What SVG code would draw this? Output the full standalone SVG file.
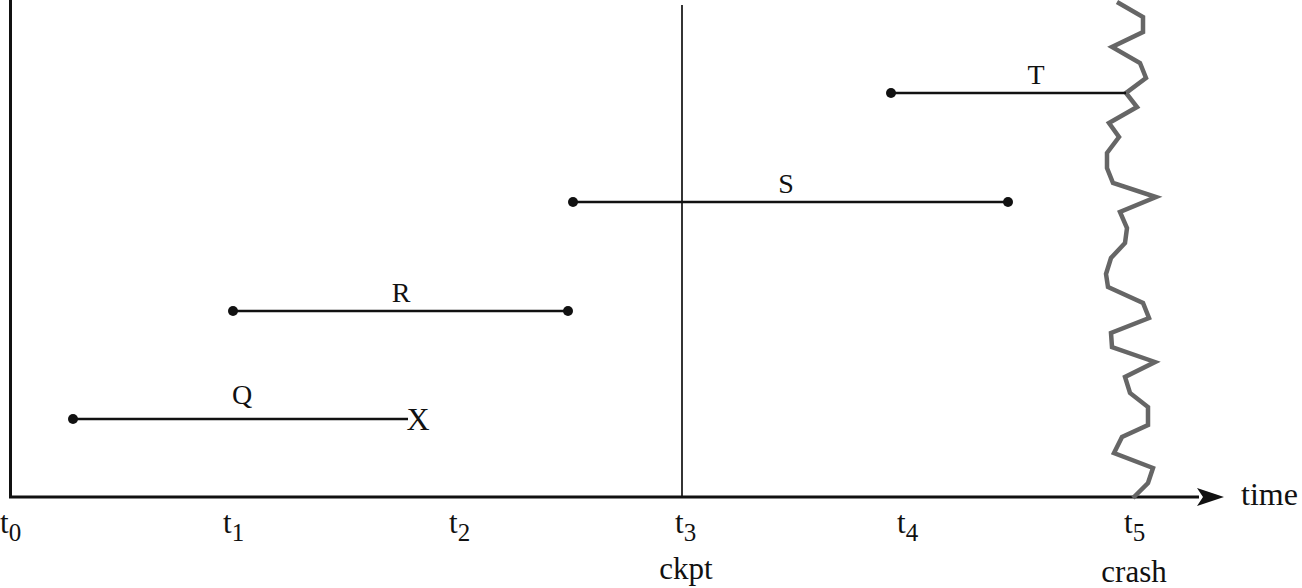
<svg xmlns="http://www.w3.org/2000/svg" width="1302" height="588" viewBox="0 0 1302 588">
<style>
.lbl{font-family:"Liberation Serif",serif;fill:#111}
.tl{font-size:31px}
.sub{font-size:25px}
.tx{font-size:28px;text-anchor:middle}
.line{stroke:#111;stroke-width:2.5;fill:none}
.dot{fill:#111}
</style>
<g id="axes">
<path d="M10.5,0 V497 H1199" stroke="#111" stroke-width="3" fill="none"/>
<path d="M1197,488 L1224,497 L1197,506 L1203,497 Z" fill="#111"/>
<text class="lbl" x="1241" y="505" font-size="32">time</text>
</g>
<g id="ticks">
<text class="lbl tl" x="0" y="533">t<tspan class="sub" dy="8">0</tspan></text>
<text class="lbl tl" x="223" y="533">t<tspan class="sub" dy="8">1</tspan></text>
<text class="lbl tl" x="449" y="533">t<tspan class="sub" dy="8">2</tspan></text>
<text class="lbl tl" x="675" y="533">t<tspan class="sub" dy="8">3</tspan></text>
<text class="lbl tl" x="897" y="533">t<tspan class="sub" dy="8">4</tspan></text>
<text class="lbl tl" x="1124" y="533">t<tspan class="sub" dy="8">5</tspan></text>
<text class="lbl tl" x="686" y="579" text-anchor="middle" font-size="32">ckpt</text>
<text class="lbl tl" x="1134" y="582" text-anchor="middle" font-size="32">crash</text>
</g>
<g id="ckpt">
<line x1="682" y1="5" x2="682" y2="497" stroke="#111" stroke-width="1.7"/>
</g>
<g id="crash">
<polyline points="1117,2 1143,17 1143,32 1112,47 1140,63 1146,78 1126,93 1137,107 1109,123 1119,137 1107,153 1107,168 1113,183 1156,197 1120,212 1127,228 1125,243 1111,258 1106,274 1108,287 1143,303 1149,318 1111,333 1112,347 1155,362 1125,377 1130,393 1148,407 1148,425 1122,437 1114,453 1153,468 1148,483 1133,498" fill="none" stroke="#666" stroke-width="4.5" stroke-linejoin="miter"/>
</g>
<g id="connectors">
<line class="line" x1="73" y1="419" x2="408" y2="419"/>
<line class="line" x1="233" y1="311" x2="568" y2="311"/>
<line class="line" x1="573" y1="202" x2="1008" y2="202"/>
<line class="line" x1="891" y1="93" x2="1126" y2="93"/>
</g>
<g id="Q">
<circle class="dot" cx="73" cy="419" r="5"/>
<text class="lbl tx" x="242" y="404">Q</text>
<text class="lbl" x="418" y="430" font-size="32" text-anchor="middle">X</text>
</g>
<g id="R">
<circle class="dot" cx="233" cy="311" r="5"/>
<circle class="dot" cx="568" cy="311" r="5"/>
<text class="lbl tx" x="401" y="302">R</text>
</g>
<g id="S">
<circle class="dot" cx="573" cy="202" r="5"/>
<circle class="dot" cx="1008" cy="202" r="5"/>
<text class="lbl tx" x="786" y="193">S</text>
</g>
<g id="T">
<circle class="dot" cx="891" cy="93" r="5"/>
<text class="lbl tx" x="1036" y="84">T</text>
</g>
</svg>
